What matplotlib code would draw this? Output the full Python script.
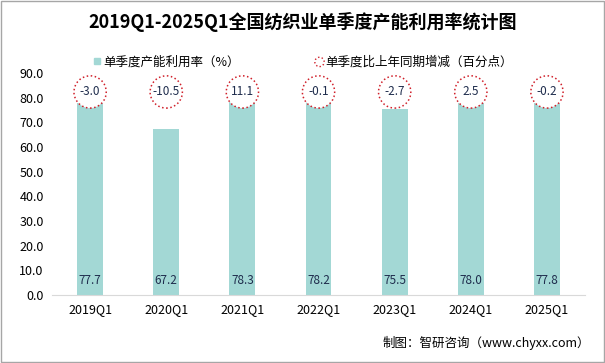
import matplotlib; matplotlib.use('Agg')
import matplotlib.pyplot as plt
from matplotlib.lines import Line2D
import numpy as np

plt.rcParams['font.family'] = ['Noto Sans CJK SC', 'DejaVu Sans']

quarters = ['2019Q1', '2020Q1', '2021Q1', '2022Q1', '2023Q1', '2024Q1', '2025Q1']
util_rate = [77.7, 67.2, 78.3, 78.2, 75.5, 78.0, 77.8]
yoy_change = ['-3.0', '-10.5', '11.1', '-0.1', '-2.7', '2.5', '-0.2']

bar_col = '#a3d8d5'
txt_col = '#1f2d4d'
circ_col = '#d0202a'

fig = plt.figure(figsize=(6.05, 3.63), dpi=100)
ax = fig.add_axes([0.086, 0.187, 0.881, 0.612])

x = np.arange(len(quarters))
ax.bar(x, util_rate, width=0.34, color=bar_col, zorder=2)
circle_y = [82.3] * len(x)
ax.scatter(x, circle_y, s=540, facecolor='white', edgecolor=circ_col, linewidths=1.1,
           linestyle=':', zorder=3)

for i in x:
    ax.text(i, 5.8, '%.1f' % util_rate[i], ha='center', va='center', fontsize=8.5, color=txt_col, zorder=4)
    ax.text(i, circle_y[i], yoy_change[i], ha='center', va='center', fontsize=8.5, color=txt_col, zorder=4)

ax.set_ylim(0, 90)
ax.set_xlim(-0.5, 6.5)
ax.set_yticks(np.arange(0, 91, 10))
ax.set_yticklabels(['%.1f' % v for v in np.arange(0, 91, 10)], fontsize=9)
ax.set_xticks(x)
ax.set_xticklabels(quarters, fontsize=9)
ax.tick_params(length=0, pad=6)
for s in ['top', 'right', 'left']:
    ax.spines[s].set_visible(False)
ax.spines['bottom'].set_color('#d9d9d9')

h_bar = Line2D([], [], marker='s', color=bar_col, linestyle='none', markersize=5)
h_circ = ax.scatter([], [], s=45, facecolor='white', edgecolor=circ_col, linewidths=1.0, linestyle=':')
fig.legend([h_bar, h_circ], ['单季度产能利用率（%）', '单季度比上年同期增减（百分点）'],
           loc='center', bbox_to_anchor=(0.5, 0.83), ncol=2, frameon=False, fontsize=9,
           handletextpad=0.05, columnspacing=6, handlelength=0.8)
fig.text(0.5, 0.94, '2019Q1-2025Q1全国纺织业单季度产能利用率统计图', ha='center', va='center',
         fontsize=13, fontweight='bold')
fig.text(0.975, 0.055, '制图：智研咨询（www.chyxx.com）', ha='right', va='center', fontsize=9)

# outer frame
fig.patches.append(plt.Rectangle((0.001, 0.002), 0.997, 0.995, transform=fig.transFigure,
                                 fill=False, edgecolor='#a6a6a6', linewidth=1))

plt.savefig('out.png')
